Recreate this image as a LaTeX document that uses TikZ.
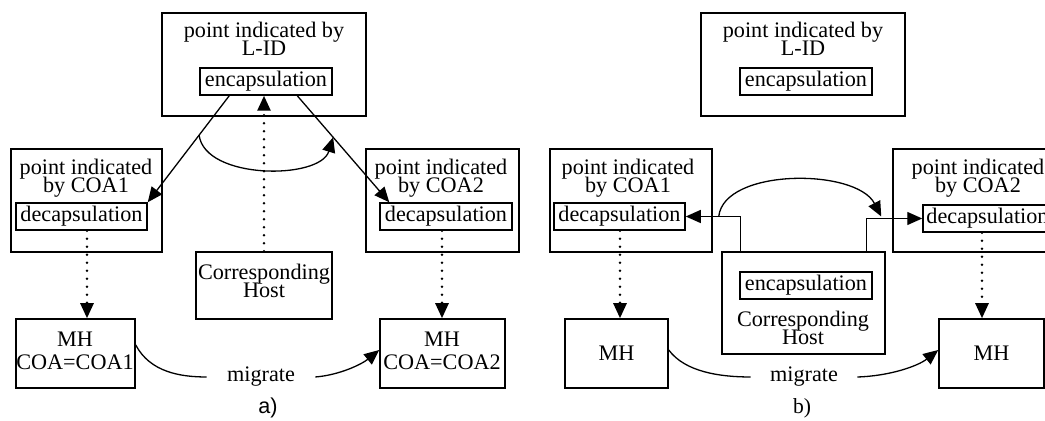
\documentclass[tikz,border=0pt]{standalone}
\usepackage{fontspec}
\setmainfont{Liberation Serif}
\newfontfamily\labelsans{Liberation Sans}
\usetikzlibrary{arrows.meta,calc}
\newcommand\diagfont{\fontsize{11.1pt}{9pt}\selectfont\lineskiplimit=-100pt\relax}
% rectangle node given by its corners (x1,y1) and (x2,y2)
\newcommand\boxnode[6][]{\node[box,#1,minimum width={(#5-#3)*0.5pt},minimum height={(#6-#4)*0.5pt}] (#2) at ({(#3+#5)/2},{(#4+#6)/2})}

\begin{document}
\begin{tikzpicture}[x=0.5pt,y=-0.5pt,
  box/.style={draw,line width=0.75pt,inner sep=0pt,align=center,font=\diagfont},
  lbl/.style={inner sep=0pt,align=center,font=\diagfont},
  arr/.style={line width=0.65pt,-{Triangle[length=7.5pt,width=6.5pt]}},
  dotarr/.style={line width=1.3pt,dash pattern=on 0pt off 4pt,line cap=round,
                 -{Triangle[length=7.5pt,width=6.5pt]}},
  plain/.style={line width=0.65pt},
  miglbl/.style={lbl,inner xsep=10pt}]

\useasboundingbox (0,0) rectangle (1045,421);
\clip (0,0) rectangle (1045,421);

% ---------------- a) encapsulation at the L-ID point ----------------
\boxnode{topA}{162}{13}{366}{116} {};
\node[lbl] (topAt) at (264,39) {point indicated by\\L-ID};
\boxnode{encA}{200}{68}{332}{95} {encapsulation};

\boxnode{coa1A}{11}{149}{162}{252} {};
\node[lbl] (coa1At) at (86,178) {point indicated\\by COA1};
\boxnode{decA1}{16}{203}{147}{230} {decapsulation};

\boxnode{coa2A}{366}{149}{519}{252} {};
\node[lbl] (coa2At) at (441,178) {point indicated\\by COA2};
\boxnode{decA2}{380}{203}{512}{230} {decapsulation};

\boxnode{chA}{196}{252}{332}{319} {};
\node[lbl] (chAt) at (264,281) {Corresponding\\Host};

\boxnode{mhA1}{16}{319}{135}{388} {};
\node[lbl] (mhA1t) at (75,351) {MH\\[2.5pt]COA=COA1};
\boxnode{mhA2}{380}{319}{505}{388} {};
\node[lbl] (mhA2t) at (442,351) {MH\\[2.5pt]COA=COA2};

\node[miglbl] (migA) at (261,377) {migrate};
\node[inner sep=0pt,font=\labelsans\fontsize{10.8pt}{12pt}\selectfont] (capA) at (268,408) {a)};

% tunnels from the encapsulation point to both COAs
\coordinate (sA1) at ($(encA.south west)+(30,0)$);
\coordinate (sA2) at ($(encA.south west)+(98,0)$);
\coordinate (eA2) at ($(decA2.north west)+(10,0)$);
\draw[arr] (sA1) -- (decA1.north east);
\draw[arr] (sA2) -- (eA2);
\draw[arr] ($(sA1)!0.37!(decA1.north east)$)
  .. controls (205,180) and (320,180) .. ($(sA2)!0.39!(eA2)$);

\draw[dotarr] (chA.north) -- (encA.south -| chA.north);
\draw[dotarr] (decA1.south -| 87,0) -- (mhA1.north -| 87,0);
\draw[dotarr] (decA2.south -| 442,0) -- (mhA2.north -| 442,0);

\draw[plain] ($(mhA1.east)+(0,-8.5)$) .. controls (150,372) and (180,377) .. (migA.west);
\draw[arr] (migA.east) .. controls (340,375) and (362,364) .. ($(mhA2.west)+(0,-3.5)$);

% ---------------- b) encapsulation at the corresponding host ----------------
\boxnode{topB}{701}{13}{905}{116} {};
\node[lbl] (topBt) at (803,39) {point indicated by\\L-ID};
\boxnode{encB}{740}{68}{872}{95} {encapsulation};

\boxnode{coa1B}{550}{149}{712}{252} {};
\node[lbl] (coa1Bt) at (628,178) {point indicated\\by COA1};
\boxnode{decB1}{554}{203}{685}{230} {decapsulation};

\boxnode{coa2B}{893}{149}{1070}{252} {};
\node[lbl] (coa2Bt) at (978,178) {point indicated\\by COA2};
\boxnode{decB2}{923}{205}{1052}{232} {decapsulation};

\boxnode{chB}{722}{252}{885}{354} {};
\boxnode{encCH}{740}{272}{872}{299} {encapsulation};
\node[lbl] (chBt) at (803,328) {Corresponding\\Host};

\boxnode{mhB1}{565}{319}{668}{388} {MH};
\boxnode{mhB2}{939}{319}{1044}{388} {MH};

\node[miglbl,inner xsep=9.5pt] (migB) at (804,377) {migrate};
\node[inner sep=0pt,font=\fontsize{10.8pt}{12pt}\selectfont] (capB) at (802,408) {b)};

% tunnels from the corresponding host to both COAs
\draw[arr] ($(chB.north west)+(19,0)$) |- (decB1.east);
\draw[arr] ($(chB.north east)+(-19,0)$) |- (decB2.west);
\draw[arr] ($(decB1.east)+(33,0)$)
  .. controls (724,168) and (856,168) .. ($(decB2.west)+(-41,-2)$);

\draw[dotarr] (decB1.south -| 620,0) -- (mhB1.north -| 620,0);
\draw[dotarr] (decB2.south -| 982,0) -- (mhB2.north -| 982,0);

\draw[plain] ($(mhB1.east)+(0,-3.5)$) .. controls (685,372) and (720,377) .. (migB.west);
\draw[arr] (migB.east) .. controls (890,376) and (918,366) .. ($(mhB2.west)+(0,-3.5)$);
\end{tikzpicture}
\end{document}
